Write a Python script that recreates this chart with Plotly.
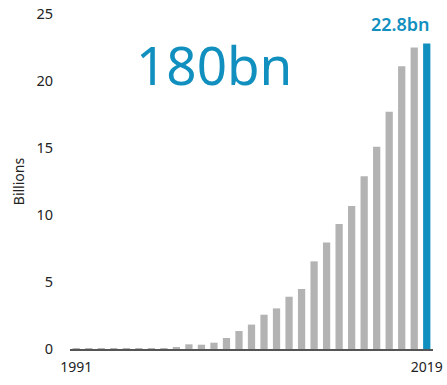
import plotly.graph_objects as go

years = list(range(1991, 2020))
values = [0.03, 0.03, 0.03, 0.03, 0.03, 0.03, 0.03, 0.03,
          0.12, 0.35, 0.32, 0.47, 0.82, 1.34, 1.82, 2.56, 3.03, 3.9, 4.48,
          6.54, 7.94, 9.33, 10.67, 12.9, 15.1, 17.7, 21.1, 22.5, 22.8]
grey = "#b3b3b3"
blue = "#1190bf"
colors = [grey] * (len(years) - 1) + [blue]
x_ticks = [1991, 2019]
y_ticks = [0, 5, 10, 15, 20, 25]

fig = go.Figure(go.Bar(x=years, y=values, marker=dict(color=colors, line=dict(width=0)),
                       hoverinfo="skip"))
fig.update_layout(
    width=447, height=385,
    margin=dict(l=70, r=14, t=14, b=36),
    paper_bgcolor="white", plot_bgcolor="white",
    bargap=0.42, showlegend=False,
    font=dict(family="Noto Sans", size=14, color="#222222"),
    xaxis=dict(range=[1990.5, 2019.5], tickvals=x_ticks, ticktext=[str(t) for t in x_ticks],
               showgrid=False, zeroline=False, showline=True, linecolor="#555555",
               linewidth=1.5, ticks="", ticklabelstandoff=4, tickfont=dict(size=14),
               automargin=False),
    yaxis=dict(range=[0, 25], tickvals=y_ticks, showgrid=False, zeroline=False,
               showline=False, ticks="", ticklabelstandoff=16, tickfont=dict(size=14.5),
               automargin=False,
               title=dict(text="Billions", font=dict(size=14), standoff=8)),
    annotations=[
        dict(x=0.397, y=0.85, xref="paper", yref="paper", text="180bn", showarrow=False,
             font=dict(size=53, color=blue, family="Noto Sans"), xanchor="center", yanchor="middle"),
        dict(x=(432 - 70) / 363, y=22.8, xref="paper", yref="y", text="22.8bn", showarrow=False,
             font=dict(size=18, color=blue, family="Noto Sans", weight=600),
             xanchor="right", yanchor="bottom", yshift=5),
    ],
)
fig.write_html("out.html")
